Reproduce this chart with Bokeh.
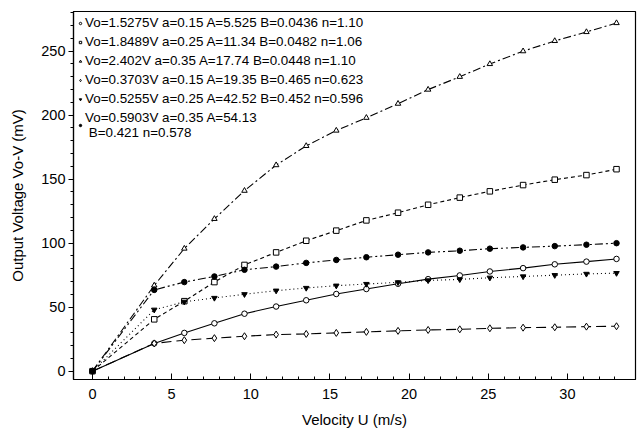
from bokeh.plotting import figure
from bokeh.models import Legend, LegendItem, Range1d, FixedTicker
from bokeh.embed import file_html
from bokeh.resources import INLINE

# Velocity U (m/s)
u = [0, 3.9, 5.8, 7.7, 9.6, 11.6, 13.5, 15.4, 17.3, 19.3, 21.2, 23.2, 25.1, 27.2, 29.2, 31.2, 33.1]

# Output voltage Vo-V (mV)
s1 = [0, 21.7, 29.9, 37.4, 44.9, 50.5, 55.4, 60.3, 64.2, 68.3, 71.9, 74.8, 77.9, 80.5, 83.5, 85.6, 87.7]
s2 = [0, 40.5, 54.7, 69.6, 83.0, 92.8, 101.9, 109.8, 117.8, 123.8, 130.0, 135.6, 140.5, 145.4, 149.6, 153.2, 157.8]
s3 = [0, 67.0, 95.8, 119.0, 141.0, 161.0, 176.0, 188.0, 198.0, 209.0, 220.0, 230.0, 240.0, 250.0, 258.0, 265.0, 272.0]
s4 = [0, 21.7, 24.2, 25.8, 27.3, 28.6, 29.1, 29.9, 30.7, 31.5, 32.2, 32.7, 33.5, 34.0, 34.3, 34.8, 35.1]
s5 = [0, 48.0, 54.2, 57.2, 60.1, 62.9, 65.0, 66.8, 68.1, 69.4, 70.9, 71.7, 73.0, 74.0, 75.0, 76.0, 76.6]
s6 = [0, 63.5, 69.6, 74.0, 79.2, 81.7, 84.6, 86.9, 89.0, 91.0, 92.8, 94.1, 95.7, 96.7, 97.7, 98.8, 100.0]

labels = [
    "Vo=1.5275V a=0.15 A=5.525 B=0.0436 n=1.10",
    "Vo=1.8489V a=0.25 A=11.34 B=0.0482 n=1.06",
    "Vo=2.402V a=0.35 A=17.74 B=0.0448 n=1.10",
    "Vo=0.3703V a=0.15 A=19.35 B=0.465 n=0.623",
    "Vo=0.5255V a=0.25 A=42.52 B=0.452 n=0.596",
    "Vo=0.5903V a=0.35 A=54.13\n B=0.421 n=0.578",
]

x_ticks = [0, 5, 10, 15, 20, 25, 30]
y_ticks = [0, 50, 100, 150, 200, 250]

p = figure(width=637, height=430, output_backend="svg", toolbar_location=None,
           x_range=Range1d(-1.2, 34.3), y_range=Range1d(-6.5, 281),
           min_border_left=73, min_border_right=2, min_border_top=11, min_border_bottom=51)

p.xgrid.visible = False
p.ygrid.visible = False
p.outline_line_color = "black"
p.outline_line_width = 1.2

series = [
    (s1, "circle", "white", "solid"),
    (s2, "square", "white", "4 3"),
    (s3, "triangle", "white", "8 3 2 3"),
    (s4, "diamond", "white", "10 5"),
    (s5, "inverted_triangle", "black", "1 3"),
    (s6, "circle", "black", "8 3 2 3 2 3"),
]

items = []
for (vals, marker, fill, dash), lab in zip(series, labels):
    p.line(u, vals, line_color="black", line_width=1.1, line_dash=dash)
    r = p.scatter(u, vals, marker=marker, size=5.5 if marker != "diamond" else 7,
                  line_color="black", fill_color=fill, line_width=1)
    items.append(LegendItem(label=lab, renderers=[r]))

legend = Legend(items=items, location="top_left")
legend.background_fill_alpha = 0
legend.border_line_alpha = 0
legend.label_text_font = "Liberation Sans"
legend.label_text_font_size = "13.4px"
legend.label_text_color = "black"
legend.glyph_width = 6
legend.glyph_height = 6
legend.label_standoff = 2
legend.label_height = 14
legend.spacing = 4
legend.padding = 2
legend.margin = 2
p.add_layout(legend, "center")

for ax in (p.xaxis[0], p.yaxis[0]):
    ax.axis_line_color = "black"
    ax.axis_line_width = 1.2
    ax.major_tick_line_color = "black"
    ax.minor_tick_line_color = "black"
    ax.major_label_text_font = "Liberation Sans"
    ax.major_label_text_font_size = "14.5px"
    ax.major_label_text_color = "black"
    ax.axis_label_text_font = "Liberation Sans"
    ax.axis_label_text_font_size = "15px"
    ax.axis_label_text_font_style = "normal"
    ax.axis_label_text_color = "black"

p.xaxis[0].ticker = FixedTicker(ticks=x_ticks, minor_ticks=list(range(0, 34)))
p.yaxis[0].ticker = FixedTicker(ticks=y_ticks, minor_ticks=list(range(0, 281, 10)))

p.xaxis.major_tick_in = 6
p.xaxis.major_tick_out = 0
p.xaxis.minor_tick_in = 3
p.xaxis.minor_tick_out = 0
p.xaxis.major_label_standoff = 9
p.xaxis.axis_label = "Velocity U (m/s)"
p.xaxis.axis_label_standoff = 9

p.yaxis.major_tick_in = 0
p.yaxis.major_tick_out = 5
p.yaxis.minor_tick_in = 0
p.yaxis.minor_tick_out = 3
p.yaxis.major_label_standoff = 3
p.yaxis.axis_label = "Output Voltage Vo-V (mV)"
p.yaxis.axis_label_standoff = 12

open("out.html", "w").write(file_html(p, INLINE))
